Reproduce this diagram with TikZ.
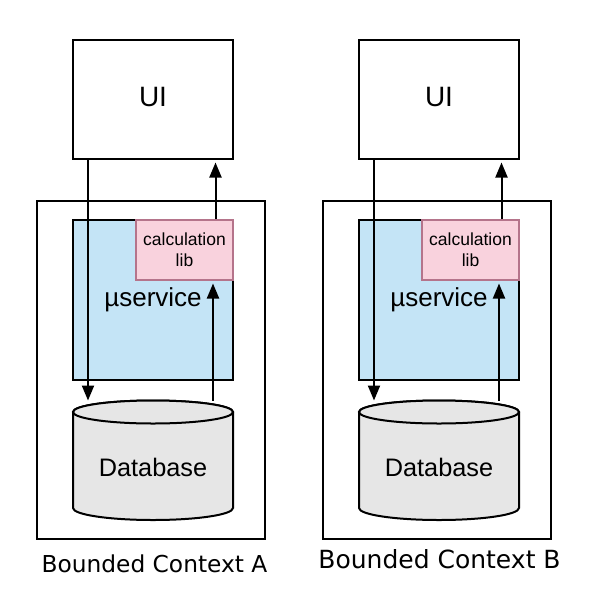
\documentclass[tikz,border=0pt]{standalone}
\usepackage{fontspec}
\setmainfont{Liberation Sans}
\newfontfamily\dejavu{DejaVu Sans}
\usetikzlibrary{arrows.meta}
\definecolor{svcfill}{RGB}{196,228,246}
\definecolor{calcfill}{RGB}{249,210,221}
\definecolor{calcdraw}{RGB}{181,116,139}
\definecolor{dbfill}{RGB}{230,230,230}
\pgfdeclarelayer{background}
\pgfdeclarelayer{mid}
\pgfsetlayers{background,mid,main}
\begin{document}
\begin{tikzpicture}[x=1pt,y=-1pt,
  frame/.style={draw=black, line width=2pt, inner sep=0pt, minimum width=228pt, minimum height=338pt},
  uibox/.style={draw=black, line width=2pt, fill=white, inner sep=0pt, minimum width=160pt, minimum height=119pt, font=\fontsize{28}{32}\selectfont, text depth=5pt},
  svcbox/.style={draw=black, line width=2pt, fill=svcfill, inner sep=0pt, minimum width=160pt, minimum height=160pt, font=\fontsize{26}{30}\selectfont},
  calcbox/.style={draw=calcdraw, line width=2pt, fill=calcfill, inner sep=0pt, minimum width=97pt, minimum height=60pt, align=center, font=\fontsize{17.5}{21}\selectfont},
  dbnode/.style={inner sep=0pt, minimum width=160pt, minimum height=119.3pt, font=\fontsize{25.3}{30}\selectfont, text height=32.7pt, text depth=0pt},
  cyl/.style={draw=black, line width=2pt, fill=dbfill},
  arr/.style={draw=black, line width=2pt, -{Triangle[length=15pt,width=12pt]}},
  ctxlabel/.style={anchor=base, inner sep=0pt}
]
\useasboundingbox (0,0) rectangle (610,600);

\begin{pgfonlayer}{background}
  % panel A
  \node[frame] (frameA) at (151,369.5) {};
  \node[uibox] (uiA) at (153,99.5) {UI};
  \node[svcbox] (svcA) at (153,300) {µservice};
  \node[calcbox] (calcA) at (184.5,250) {calculation\\lib};
  % panel B
  \node[frame] (frameB) at (437,369.5) {};
  \node[uibox] (uiB) at (439,99.5) {UI};
  \node[svcbox] (svcB) at (439,300) {µservice};
  \node[calcbox] (calcB) at (470.5,250) {calculation\\lib};
\end{pgfonlayer}

% databases
\filldraw[cyl] (73,412) -- (73,508) arc[start angle=180,end angle=0,x radius=80,y radius=12] -- (233,412) arc[start angle=0,end angle=-180,x radius=80,y radius=11.5] -- cycle;
\draw[cyl] (153,412) ellipse[x radius=80, y radius=11.5];
\node[dbnode] (dbA) at (153,460.35) {Database};

\filldraw[cyl] (359,412) -- (359,508) arc[start angle=180,end angle=0,x radius=80,y radius=12] -- (519,412) arc[start angle=0,end angle=-180,x radius=80,y radius=11.5] -- cycle;
\draw[cyl] (439,412) ellipse[x radius=80, y radius=11.5];
\node[dbnode] (dbB) at (439,460.35) {Database};

% labels
\node[ctxlabel, font=\dejavu\fontsize{23.3}{28}\selectfont] (labA) at (154.5,572) {Bounded Context A};
\node[ctxlabel, font=\dejavu\fontsize{25}{30}\selectfont] (labB) at (439.5,568) {Bounded Context B};

% arrow x positions
\coordinate (xdA) at (88,0);
\coordinate (xuA) at (215.5,0);
\coordinate (xlA) at (213,0);
\coordinate (xdB) at (374,0);
\coordinate (xuB) at (501.5,0);
\coordinate (xlB) at (499,0);

\begin{pgfonlayer}{mid}
  \draw[arr] (uiA.south -| xdA) -- (dbA.north -| xdA);
  \draw[arr, shorten >=2.5pt] (calcA.north -| xuA) -- (uiA.south -| xuA);
  \draw[arr, shorten >=2.5pt] (dbA.north -| xlA) -- (calcA.south -| xlA);
  \draw[arr] (uiB.south -| xdB) -- (dbB.north -| xdB);
  \draw[arr, shorten >=2.5pt] (calcB.north -| xuB) -- (uiB.south -| xuB);
  \draw[arr, shorten >=2.5pt] (dbB.north -| xlB) -- (calcB.south -| xlB);
\end{pgfonlayer}
\end{tikzpicture}
\end{document}
